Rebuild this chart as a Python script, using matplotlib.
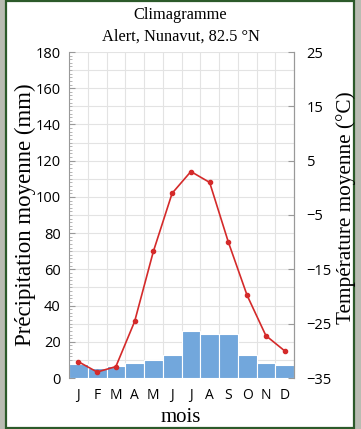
"""Climagramme d'Alert (Nunavut) : précipitations en barres, températures en ligne."""

import matplotlib
matplotlib.use("Agg")
import matplotlib.pyplot as plt
from matplotlib.patches import Rectangle
from matplotlib.ticker import MultipleLocator, FixedLocator

months = ["J", "F", "M", "A", "M", "J", "J", "A", "S", "O", "N", "D"]
precip_mm = [8.0, 5.5, 6.5, 8.5, 9.8, 12.8, 26.0, 24.5, 24.5, 12.8, 8.5, 7.0]
temp_c = [-32.0, -33.9, -32.9, -24.6, -11.7, -1.0, 3.0, 1.0, -10.0, -19.8, -27.2, -30.0]

BAR_BLUE = "#72a7dc"
LINE_RED = "#d42a2a"
GRID = "#e3e3e3"
SERIF = "Liberation Serif"
SANS = "Open Sans"

W, H = 361, 429
fig = plt.figure(figsize=(W / 100, H / 100), dpi=100)
fig.patch.set_facecolor("#b9bcb2")

# panneau blanc avec bordure verte (sous les axes)
fig.patches.append(Rectangle((6 / W, 1 / H), 348 / W, 427 / H,
                             transform=fig.transFigure, facecolor="white",
                             edgecolor="#2c5a2a", linewidth=1.6, zorder=-10))

ax = fig.add_axes([69 / W, 1 - 378 / H, 225 / W, 326 / H])
ax.set_facecolor("none")
x = list(range(len(months)))

ax.bar(x, precip_mm, width=1.0, color=BAR_BLUE, edgecolor="white", linewidth=0.8, zorder=2)
ax.set_xlim(-0.5, 11.5)
ax.set_ylim(0, 180)

# grille : lignes horizontales tous les 10 mm, verticales entre les mois
ax.yaxis.set_major_locator(MultipleLocator(20))
ax.yaxis.set_minor_locator(MultipleLocator(2))
for yv in range(10, 181, 10):
    ax.axhline(yv, color=GRID, linewidth=0.8, zorder=1)
for xv in [i + 0.5 for i in range(11)]:
    ax.axvline(xv, color=GRID, linewidth=0.8, zorder=1)

ax.set_xticks(x)
ax.set_xticklabels(months, fontfamily=SANS, fontsize=10)
ax.tick_params(axis="x", length=0, pad=7)
ax.tick_params(axis="y", which="major", direction="in", length=4, color="#999999",
               labelsize=10.5, pad=6)
ax.tick_params(axis="y", which="minor", direction="in", length=2.5, color="#aaaaaa")
for lab in ax.get_yticklabels():
    lab.set_fontfamily(SANS)

for side in ["top", "bottom"]:
    ax.spines[side].set_visible(False)
for side in ["left", "right"]:
    ax.spines[side].set_color("#999999")
    ax.spines[side].set_linewidth(0.8)

ax2 = ax.twinx()
ax2.plot(x, temp_c, color=LINE_RED, linewidth=1.2, marker="o", markersize=3, zorder=5)
ax2.set_ylim(-35, 25)
ax2.yaxis.set_major_locator(FixedLocator([-35, -25, -15, -5, 5, 15, 25]))
ax2.set_yticklabels(["\u221235", "\u221225", "\u221215", "\u22125", "5", "15", "25"],
                    fontfamily=SANS, fontsize=10.5)
ax2.tick_params(axis="y", direction="in", length=4, color="#999999", pad=9)
for side in ["top", "bottom", "left"]:
    ax2.spines[side].set_visible(False)
ax2.spines["right"].set_color("#999999")
ax2.spines["right"].set_linewidth(0.8)

# titres et libellés d'axes
fig.text(0.5, 1 - 15 / H, "Climagramme", ha="center", va="center",
         fontfamily=SERIF, fontsize=11.8)
fig.text(0.5, 1 - 37 / H, "Alert, Nunavut, 82.5 °N", ha="center", va="center",
         fontfamily=SERIF, fontsize=11.8)
fig.text(25 / W, 1 - 215 / H, "Précipitation moyenne (mm)", rotation=90,
         ha="center", va="center", fontfamily=SERIF, fontsize=16.5)
fig.text(346 / W, 1 - 208 / H, "Température moyenne (°C)", rotation=90,
         ha="center", va="center", fontfamily=SERIF, fontsize=15.3)
fig.text(181 / W, 1 - 417 / H, "mois", ha="center", va="center",
         fontfamily=SERIF, fontsize=15)

fig.savefig("out.png", dpi=100, facecolor=fig.get_facecolor())
